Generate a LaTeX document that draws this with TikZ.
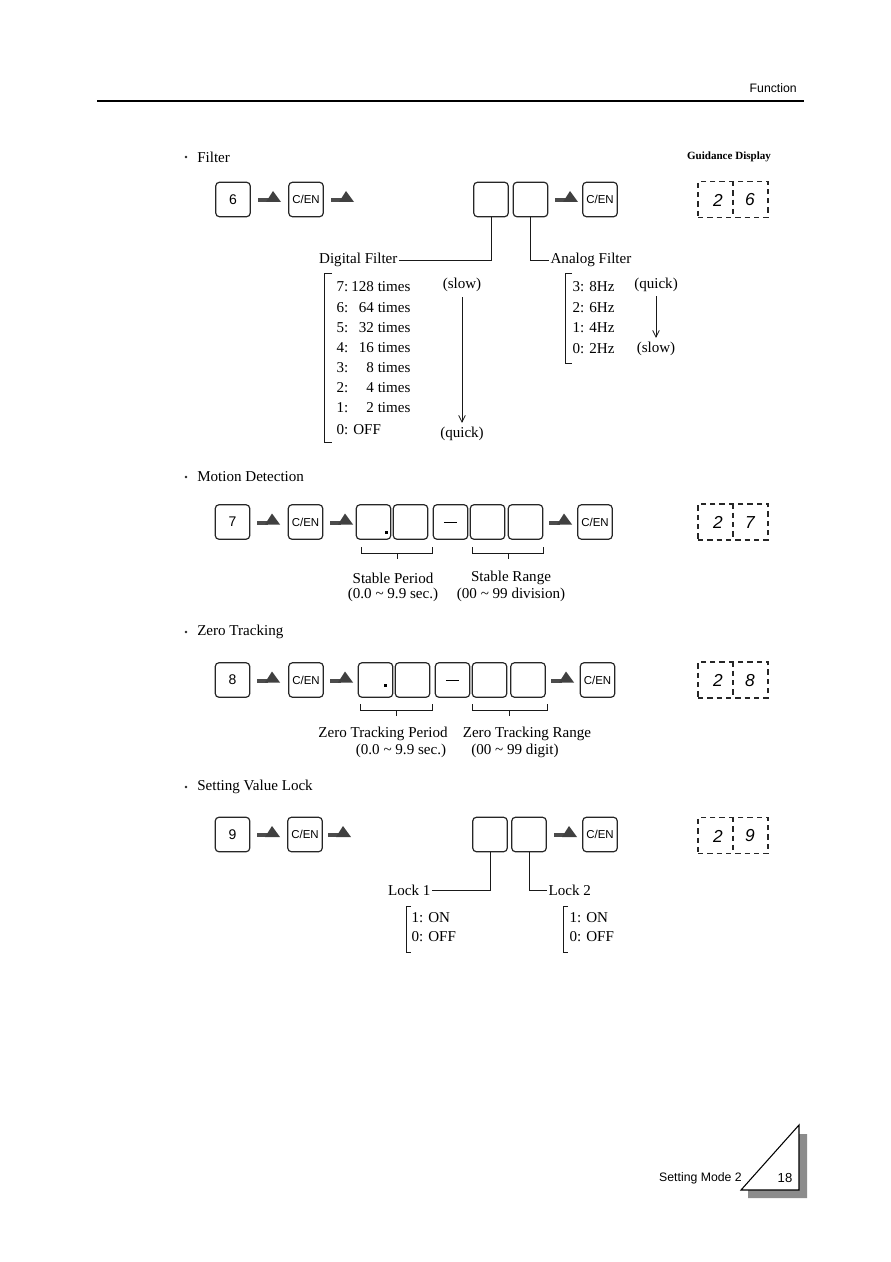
\documentclass[tikz,border=0pt]{standalone}
\usepackage{fontspec}
\setmainfont{Liberation Serif}
\setsansfont{Liberation Sans}
\usetikzlibrary{arrows.meta}
\tikzset{
  key/.style={draw=black!85, line width=0.9pt, rounded corners=3pt, minimum width=26pt, minimum height=26pt, inner sep=0pt, fill=white, font=\sffamily\fontsize{10.5}{11}\selectfont},
  cen/.style={key, font=\sffamily\fontsize{8.6}{9}\selectfont},
  txt/.style={inner sep=1pt, font=\fontsize{11.3}{13}\selectfont},
  title/.style={inner sep=0pt, anchor=west, font=\fontsize{11.3}{13}\selectfont},
  bul/.style={circle, fill=black!85, inner sep=0pt, minimum size=2pt},
  sans/.style={inner sep=0pt, font=\sffamily\fontsize{9.2}{10}\selectfont},
  gdbox/.style={draw=black!85, line width=0.9pt, dash pattern=on 4pt off 3pt, minimum width=52.5pt, minimum height=27pt, inner sep=0pt},
  gdline/.style={draw=black!85, line width=0.9pt, dash pattern=on 4pt off 3pt},
  digit/.style={inner sep=0pt, font=\sffamily\itshape\fontsize{13}{13}\selectfont},
  ln/.style={line width=0.6pt, draw=black!90},
  brk/.style={line width=0.6pt, draw=black!90},
  down/.style={ln, -{Straight Barb[length=5pt,width=5pt]}},
  harrow/.pic={\fill[black!70] (0,-1.5) rectangle (11,2.5); \fill[black!75] (8,2.5) -- (15,-8.5) -- (23,2.5) -- cycle;},
}
\begin{document}
\begin{tikzpicture}[x=0.75pt,y=-0.75pt]
\fill[white] (0,0) rectangle (890,1262);
\useasboundingbox (0,0) rectangle (890,1262);

% header
\node[sans, anchor=east] (func) at (797,88) {Function};
\draw[line width=1.1pt] (97,101) -- (804,101);

% ---------- Filter ----------
\node[bul] (bu1) at (186,157) {};
\node[title] (t1) at (197,157) {Filter};
\node[inner sep=0pt, font=\bfseries\fontsize{8.3}{9}\selectfont] (gdt) at (729,157) {Guidance Display};

\node[key] (k6) at (233,199.5) {6};
\pic at (258,199.5) {harrow};
\node[cen] (c61) at (306,199.5) {C/EN};
\pic at (331,199.5) {harrow};
\node[key] (b61) at (491,199.5) {};
\node[key] (b62) at (530.5,199.5) {};
\pic at (555,199.5) {harrow};
\node[cen] (c62) at (600,199.5) {C/EN};

\node[gdbox] (g6) at (733,199.5) {};
\draw[gdline] (g6.north) -- (g6.south);
\node[digit] (g6a) at (718,200) {2};
\node[digit] (g6b) at (750,200) {6};

\node[txt, anchor=east] (dfl) at (399,260) {Digital Filter};
\node[txt, anchor=west] (afl) at (549,260) {Analog Filter};
\draw[ln] (b61.south) |- (dfl.east);
\draw[ln] (b62.south) |- (afl.west);

\draw[brk] (332,273) -- (324,273) -- (324,442) -- (332,442);
\foreach \n/\v/\y in {7/128 times/287, 6/64 times/308, 5/32 times/328, 4/16 times/348, 3/8 times/368, 2/4 times/388, 1/2 times/408}{
  \node[txt, anchor=west] (dn\n) at (335,\y) {\n:};
  \node[txt, anchor=east] (dv\n) at (412,\y) {\v};
}
\node[txt, anchor=west] (dn0) at (335,430) {0: OFF};
\node[txt] (dslow) at (462,285) {(slow)};
\node[txt] (dquick) at (462,434) {(quick)};
\draw[down, shorten <=3pt, shorten >=2pt] (dslow) -- (dquick);

\draw[brk] (572,273) -- (565,273) -- (565,363) -- (572,363);
\node[txt, anchor=west] (a3) at (571,287) {3: 8Hz};
\node[txt, anchor=west] (a2) at (571,308) {2: 6Hz};
\node[txt, anchor=west] (a1) at (571,328) {1: 4Hz};
\node[txt, anchor=west] (a0) at (571,349) {0: 2Hz};
\node[txt] (aquick) at (656,285) {(quick)};
\node[txt] (aslow) at (656,349) {(slow)};
\draw[down, shorten <=2pt, shorten >=2pt] (aquick) -- (aslow);

% ---------- Motion Detection ----------
\node[bul] (bu2) at (186,477) {};
\node[title] (t2) at (197,477) {Motion Detection};

\node[key] (k7) at (232.5,522) {7};
\pic at (257,522) {harrow};
\node[cen] (c71) at (305.5,522) {C/EN};
\pic at (330,522) {harrow};
\node[key] (b71) at (373.5,522) {};
\node[key] (b72) at (410.5,522) {};
\node[key] (b73) at (450.5,522) {};
\node[key] (b74) at (487.5,522) {};
\node[key] (b75) at (525.5,522) {};
\pic at (549,522) {harrow};
\node[cen] (c72) at (595,522) {C/EN};
\fill ([shift={(-6,-9)}]b71.south east) rectangle ([shift={(-3,-6)}]b71.south east);
\draw[line width=0.5pt] ([xshift=-5]b73.center) -- ([xshift=5]b73.center);

\draw[brk] (361,547) -- (361,553) -- (432,553) -- (432,547);
\draw[brk] (397,553) -- (397,559);
\draw[brk] (472,547) -- (472,553) -- (543,553) -- (543,547);
\draw[brk] (508,553) -- (508,559);
\node[txt] (sp) at (393,578) {Stable Period};
\node[txt] (sp2) at (393,595) {(0.0 \textasciitilde\ 9.9 sec.)};
\node[txt] (sr) at (511,578) {Stable Range};
\node[txt] (sr2) at (511,595) {(00 \textasciitilde\ 99 division)};

\node[gdbox] (g7) at (733,522) {};
\draw[gdline] (g7.north) -- (g7.south);
\node[digit] (g7a) at (718,522.5) {2};
\node[digit] (g7b) at (750,522.5) {7};

% ---------- Zero Tracking ----------
\node[bul] (bu3) at (186,632) {};
\node[title] (t3) at (197,632) {Zero Tracking};

\node[key] (k8) at (232.5,680) {8};
\pic at (257,680) {harrow};
\node[cen] (c81) at (306,680) {C/EN};
\pic at (330,680) {harrow};
\node[key] (b81) at (375.5,680) {};
\node[key] (b82) at (412.5,680) {};
\node[key] (b83) at (452.5,680) {};
\node[key] (b84) at (489.5,680) {};
\node[key] (b85) at (528,680) {};
\pic at (551,680) {harrow};
\node[cen] (c82) at (597.5,680) {C/EN};
\fill ([shift={(-9,-14)}]b81.south east) rectangle ([shift={(-6,-11)}]b81.south east);
\draw[line width=0.5pt] ([xshift=-5]b83.center) -- ([xshift=5]b83.center);

\draw[brk] (360,704) -- (360,710) -- (432,710) -- (432,704);
\draw[brk] (396,710) -- (396,716);
\draw[brk] (472,704) -- (472,710) -- (547,710) -- (547,704);
\draw[brk] (509,710) -- (509,716);
\node[txt] (zp) at (383,734) {Zero Tracking Period};
\node[txt] (zp2) at (401,751) {(0.0 \textasciitilde\ 9.9 sec.)};
\node[txt] (zr) at (527,734) {Zero Tracking Range};
\node[txt] (zr2) at (515,751) {(00 \textasciitilde\ 99 digit)};

\node[gdbox] (g8) at (733,680) {};
\draw[gdline] (g8.north) -- (g8.south);
\node[digit] (g8a) at (718,680.5) {2};
\node[digit] (g8b) at (750,680.5) {8};

% ---------- Setting Value Lock ----------
\node[bul] (bu4) at (186,787) {};
\node[title] (t4) at (197,787) {Setting Value Lock};

\node[key] (k9) at (232.5,834.5) {9};
\pic at (257,834.5) {harrow};
\node[cen] (c91) at (305,834.5) {C/EN};
\pic at (328,834.5) {harrow};
\node[key] (b91) at (490,834.5) {};
\node[key] (b92) at (529,834.5) {};
\pic at (554,834.5) {harrow};
\node[cen] (c92) at (600,834.5) {C/EN};

\node[txt, anchor=east] (l1) at (432,890) {Lock 1};
\node[txt, anchor=west] (l2) at (547,890) {Lock 2};
\draw[ln] (b91.south) |- (l1.east);
\draw[ln] (b92.south) |- (l2.west);

\draw[brk] (411,906) -- (406,906) -- (406,952) -- (411,952);
\node[txt, anchor=west] (l1a) at (410,918) {1: ON};
\node[txt, anchor=west] (l1b) at (410,937) {0: OFF};
\draw[brk] (568,906) -- (563,906) -- (563,952) -- (568,952);
\node[txt, anchor=west] (l2a) at (568,918) {1: ON};
\node[txt, anchor=west] (l2b) at (568,937) {0: OFF};

\node[gdbox] (g9) at (733,835.5) {};
\draw[gdline] (g9.north) -- (g9.south);
\node[digit] (g9a) at (718,836) {2};
\node[digit] (g9b) at (750,836) {9};

% ---------- footer ----------
\fill[black!45] (799,1134) -- (807,1134) -- (807,1198) -- (748,1198) -- (748,1190) -- (799,1190) -- cycle;
\draw[line width=0.8pt, fill=white] (741,1190) -- (799,1125) -- (799,1190) -- cycle;
\node[sans, anchor=east] (sm) at (742,1178) {Setting Mode 2};
\node[sans, font=\sffamily\fontsize{9.8}{10}\selectfont] (pg) at (785,1178) {18};
\end{tikzpicture}
\end{document}
